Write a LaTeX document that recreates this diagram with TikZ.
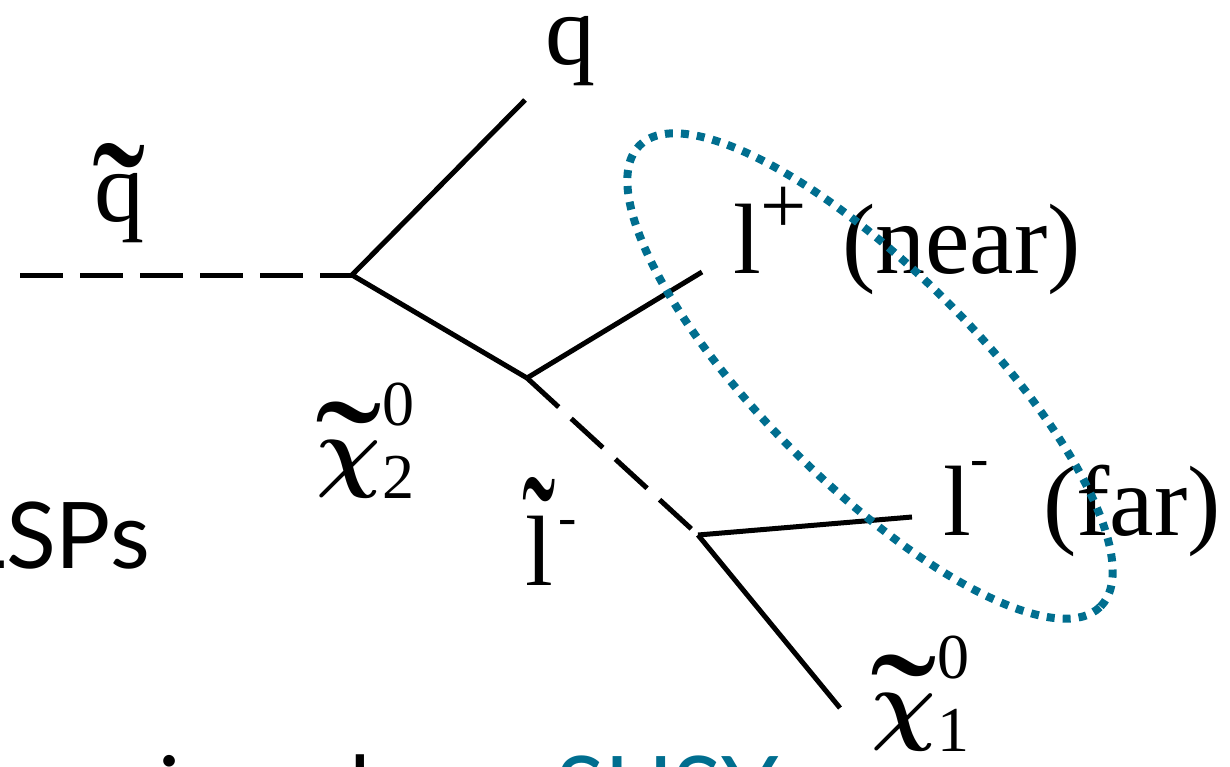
\documentclass[tikz,border=0pt]{standalone}
\usepackage{fix-cm}
\usepackage{fontspec}
\setmainfont{Liberation Serif}
\newfontfamily\gill{Lato}
\definecolor{tealdot}{RGB}{0,110,143}
\newcommand\smallsize[1]{\fontsize{#1}{#1}\selectfont}
% #1 horizontal scale, #2 vertical scale, #3 raise, #4 base text
\newcommand\tildeon[4]{\ooalign{#4\cr\hidewidth\raisebox{#3}{\scalebox{#1}[#2]{\char"02DC}}\hidewidth\cr}}
\newcommand\tchi[1]{\tildeon{2.0}{1.7}{-36pt}{{\smallsize{90}\boldmath$\chi$}}\kern2pt\rlap{\raisebox{55pt}{\smallsize{64}0}}\raisebox{-18pt}{\smallsize{64}#1}}
\begin{document}
\begin{tikzpicture}[x=1pt,y=-1pt,
  solidline/.style={line width=5pt, line cap=butt},
  scalarline/.style={line width=5pt, dash pattern=on 43pt off 17pt},
  lab/.style={font=\fontsize{100}{110}\selectfont, inner sep=0pt, anchor=base west},
  slab/.style={font=\gill\fontsize{92}{100}\selectfont, inner sep=0pt, anchor=base west},
  ring/.style={draw=tealdot, line width=8pt, dash pattern=on 8pt off 8pt}]
\useasboundingbox (0,0) rectangle (1230,767);
\clip (0,0) rectangle (1230,767);

% vertices and free ends
\coordinate (start) at (20,275);
\coordinate (v1) at (352,275);
\coordinate (qend) at (525,100);
\coordinate (v2) at (527,378);
\coordinate (lpend) at (702,272);
\coordinate (v3) at (698,535);
\coordinate (lmend) at (912,517);
\coordinate (chiend) at (840,708);

% lines
\draw[scalarline] (start) -- (v1);
\draw[solidline] (v1) -- (qend);
\draw[solidline] (v1) -- (v2);
\draw[solidline] (v2) -- (lpend);
\draw[scalarline] (v2) -- (v3);
\draw[solidline] (v3) -- (lmend);
\draw[solidline] (v3) -- (chiend);

% labels
\node[lab, anchor=base] (qlab) at (570,65) {q};
\node[lab, anchor=base] (sqlab) at (119,222) {\tildeon{1.6}{1.9}{-50pt}{q}};
\node[lab] (lplab) at (733,273) {l\raisebox{40pt}{\smallsize{82}+}\hspace{35pt}(near)};
\node[lab] (lmlab) at (943,535) {l\raisebox{59pt}{\smallsize{55}-}\hspace{54pt}(far)};
\node[lab] (sllab) at (525,585) {\tildeon{1.0}{1.9}{-20pt}{l}\kern6pt\raisebox{50pt}{\smallsize{55}-}};
\node[lab] (chi2lab) at (316,480) {\tchi{2}};
\node[lab] (chi1lab) at (871,733) {\tchi{1}};

% slide text (partly outside the frame)
\node[slab, anchor=base east] (lsps) at (150,568) {LSPs};
\node[slab, anchor=base] (ichar) at (170,822) {i};
\node[slab, anchor=base] (lchar) at (360,822) {l};
\node[slab, text=tealdot] (susy) at (555,822) {SUSY};

% dotted ellipse
\begin{scope}[shift={(870,376)}, rotate=-45]
  \draw[ring] (0,0) ellipse [x radius=326pt, y radius=107pt];
\end{scope}
\end{tikzpicture}
\end{document}
